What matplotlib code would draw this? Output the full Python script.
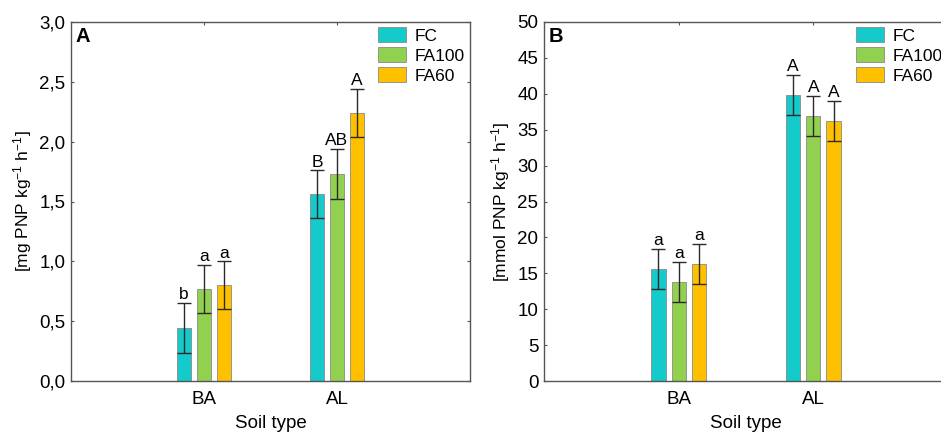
import matplotlib
matplotlib.use('Agg')
from matplotlib import pyplot as plt
from matplotlib.patches import Patch
from matplotlib.ticker import FuncFormatter
import numpy as np

soils = ['BA', 'AL']
treatments = ['FC', 'FA100', 'FA60']
colors = ['#14CACA', '#92D050', '#FFC000']

# panel A: mg PNP kg-1 h-1
a_mean = [[0.44, 1.56], [0.77, 1.73], [0.80, 2.24]]
a_err = [[0.21, 0.20], [0.20, 0.21], [0.20, 0.20]]
a_letters = [['b', 'B'], ['a', 'AB'], ['a', 'A']]

# panel B: mmol PNP kg-1 h-1
b_mean = [[15.6, 39.8], [13.8, 36.9], [16.3, 36.2]]
b_err = [[2.8, 2.8], [2.8, 2.8], [2.8, 2.8]]
b_letters = [['a', 'A'], ['a', 'A'], ['a', 'A']]

plt.rcParams.update({'font.family': 'Liberation Sans', 'font.size': 12,
                     'mathtext.fontset': 'custom',
                     'mathtext.rm': 'Liberation Sans',
                     'mathtext.it': 'Liberation Sans:italic',
                     'mathtext.bf': 'Liberation Sans:bold'})

fig = plt.figure(figsize=(9.41, 4.32), dpi=100)
axA = fig.add_axes([71/941, 1 - 381/432, 399/941, 359/432])
axB = fig.add_axes([544/941, 1 - 381/432, 404/941, 359/432])

x = np.array([1.0, 2.0])
offs = [-0.15, 0.0, 0.15]
width = 0.105


def draw(ax, means, errs, letters, ymax, ystep, ylabel, tag, comma):
    for i in range(3):
        xs = x + offs[i]
        ax.bar(xs, means[i], width, color=colors[i], edgecolor='#8a8a8a',
               linewidth=0.6, zorder=2)
        ax.errorbar(xs, means[i], yerr=errs[i], fmt='none', ecolor='#2a2a2a',
                    elinewidth=1.0, capsize=4.8, capthick=1.0, zorder=3)
        for j in range(2):
            ax.text(xs[j], means[i][j] + errs[i][j] + ymax*0.002, letters[i][j],
                    ha='center', va='bottom', fontsize=12.5)
    ax.set_xlim(0, 3)
    ax.set_ylim(0, ymax)
    ax.set_xticks(x)
    ax.set_xticklabels(soils)
    ax.set_yticks(np.arange(0, ymax + ystep/2, ystep))
    if comma:
        ax.yaxis.set_major_formatter(FuncFormatter(lambda v, p: f'{v:.1f}'.replace('.', ',')))
    ax.tick_params(direction='in', length=2.5, top=True, right=True,
                   labelsize=13.5, pad=4, color='#555555')
    ax.tick_params(axis='x', pad=7)
    for s in ax.spines.values():
        s.set_color('#555555')
        s.set_linewidth(1.0)
    ax.set_xlabel('Soil type', fontsize=13.5, labelpad=5)
    ax.set_ylabel(ylabel, fontsize=12.5, labelpad=4)
    ax.text(0.012, 0.985, tag, transform=ax.transAxes, ha='left', va='top',
            fontsize=14.5, fontweight='bold')
    handles = [Patch(facecolor=colors[k], edgecolor='#8a8a8a', linewidth=0.6)
               for k in range(3)]
    ax.legend(handles, treatments, loc='upper right', frameon=False,
              fontsize=12.5, handlelength=1.6, handleheight=0.95,
              labelspacing=0.2, handletextpad=0.5,
              borderaxespad=0.2, borderpad=0.1)


draw(axA, a_mean, a_err, a_letters, 3.0, 0.5,
     r'[mg PNP kg$^{-1}$ h$^{-1}$]', 'A', True)
draw(axB, b_mean, b_err, b_letters, 50, 5,
     r'[mmol PNP kg$^{-1}$ h$^{-1}$]', 'B', False)

fig.savefig('out.png', dpi=100)
